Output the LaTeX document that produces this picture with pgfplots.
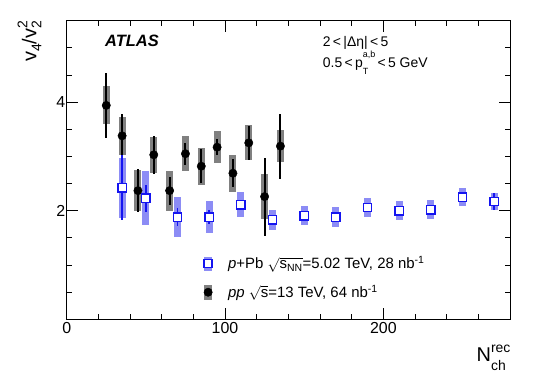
\documentclass[border=0pt]{standalone}
\usepackage{fontspec}
\setmainfont{Liberation Sans}
\usepackage{pgfplots}
\pgfplotsset{compat=1.18}
\usepackage{pgfplotstable}

\definecolor{ppsys}{RGB}{128,128,128}
\definecolor{pbsys}{RGB}{140,140,245}
\definecolor{pbline}{RGB}{20,20,240}

\pgfplotstableread{
x y stat sys
25 3.94 0.60 0.35
35 3.38 0.40 0.35
45 2.37 0.39 0.38
55 3.03 0.35 0.33
65 2.37 0.26 0.37
75 3.05 0.20 0.32
85 2.82 0.31 0.34
95 3.17 0.15 0.30
105 2.69 0.26 0.34
115 3.25 0.31 0.32
125 2.26 0.72 0.42
135 3.19 0.60 0.29
}\pp

\pgfplotstableread{
x y stat sys
35 2.42 0.60 0.55
50 2.23 0.25 0.50
70 1.88 0.17 0.37
90 1.88 0.13 0.29
110 2.11 0.05 0.23
130 1.83 0.05 0.18
150 1.91 0.05 0.18
170 1.88 0.05 0.18
190 2.06 0.05 0.17
210 2.00 0.05 0.17
230 2.02 0.05 0.17
250 2.25 0.05 0.17
270 2.17 0.16 0.15
}\pb

\begin{document}
\begin{tikzpicture}
\begin{axis}[
  scale only axis, width=443.3bp, height=298.6bp,
  xmin=0, xmax=280, ymin=0, ymax=5.5,
  xtick={0,100,200},
  minor xtick={20,40,60,80,120,140,160,180,220,240,260},
  ytick={2,4},
  minor ytick={0.5,1,1.5,2.5,3,3.5,4.5,5},
  tick align=inside,
  major tick length=11bp, minor tick length=5.5bp,
  axis line style={line width=0.8bp},
  every tick/.style={black, line width=0.8bp},
  ticklabel style={font=\fontsize{16}{19}\selectfont},
  /pgf/number format/assume math mode=true,
  yticklabel style={xshift=2bp},
  xlabel={\fontsize{20}{24}\selectfont N\hbox{\fontsize{14}{14}\selectfont\rlap{\raisebox{-8.5bp}{ch}}\raisebox{9.7bp}{rec}}},
  xlabel style={at={(rel axis cs:1.0015,-0.142)}, anchor=base east, inner sep=0pt},
  ylabel={\fontsize{20}{24}\selectfont v\raisebox{-5bp}{\fontsize{14}{14}\selectfont 4}/v\hbox{\fontsize{14}{14}\selectfont\rlap{\raisebox{-5bp}{2}}\raisebox{9bp}{2}}},
  ylabel style={at={(rel axis cs:-0.0564,1)}, anchor=south east, inner sep=0pt, rotate=0},
  legend style={at={(rel axis cs:0.308,0.218)}, anchor=north west, draw=none, fill=none,
    inner sep=0pt, row sep=11bp, font=\fontsize{15}{18}\selectfont},
  legend cell align=left,
]
\coordinate (sw) at (rel axis cs:0,0);
\coordinate (ne) at (rel axis cs:1,1);

\addlegendimage{legend image code/.code={
  \path[draw=none, fill=none] (-4.5bp,-7bp) rectangle (18bp,7bp);
  \fill[pbsys] (-3.5bp,-6.5bp) rectangle (3.5bp,6.5bp);
  \draw[pbline, line width=1.4bp, fill=white] (-4bp,-4bp) rectangle (4bp,4bp);}}
\addlegendentry{\textit{p}+Pb $\sqrt{\hbox{s\textsubscript{NN}}}$=5.02 TeV, 28 nb\textsuperscript{-1}}
\addlegendimage{legend image code/.code={
  \path[draw=none, fill=none] (-4.5bp,-7bp) rectangle (18bp,7bp);
  \fill[ppsys] (-3.5bp,-7bp) rectangle (3.5bp,7bp);
  \fill[black] (0,0) circle (4.2bp);}}
\addlegendentry{\textit{pp} $\sqrt{\hbox{s}}$=13 TeV, 64 nb\textsuperscript{-1}}

% pp
\addplot[forget plot, only marks, mark=none, error bars/.cd, y dir=both, y explicit, error mark=none,
  error bar style={line width=7bp, ppsys}] table[x=x, y=y, y error=sys]{\pp};
\addplot[forget plot, only marks, mark=none, error bars/.cd, y dir=both, y explicit, error mark=none,
  error bar style={line width=2bp, black}] table[x=x, y=y, y error=stat]{\pp};
\addplot[forget plot, only marks, mark=*, mark size=4.2bp, mark options={fill=black, draw=black}]
  table[x=x, y=y]{\pp};
% pPb
\addplot[forget plot, only marks, mark=none, error bars/.cd, y dir=both, y explicit, error mark=none,
  error bar style={line width=7bp, pbsys}] table[x=x, y=y, y error=sys]{\pb};
\addplot[forget plot, only marks, mark=none, error bars/.cd, y dir=both, y explicit, error mark=none,
  error bar style={line width=1.5bp, pbline}] table[x=x, y=y, y error=stat]{\pb};
\addplot[forget plot, only marks, mark=square*, mark size=4.2bp, mark options={fill=white, draw=pbline, line width=1.4bp}]
  table[x=x, y=y]{\pb};

\node[anchor=base west, inner sep=0pt, font=\fontsize{16.5}{20}\selectfont\bfseries\itshape]
  at (rel axis cs:0.0864,0.913) {ATLAS};
\node[anchor=base west, inner sep=0pt, font=\fontsize{14}{17}\selectfont]
  at (rel axis cs:0.5775,0.913) {2\,<\,|Δη|\,<\,5};
\node[anchor=base west, inner sep=0pt, font=\fontsize{14}{17}\selectfont]
  at (rel axis cs:0.5775,0.8426) {0.5\,<\,p{\fontsize{9}{9}\selectfont\rlap{\raisebox{-6.5bp}{T}}\raisebox{10bp}{a,b}}\,<\,5 GeV};
\end{axis}
\pgfresetboundingbox
\path ([shift={(-66.7bp,-58.7bp)}]sw) rectangle ([shift={(30bp,20.7bp)}]ne);
\end{tikzpicture}
\end{document}
